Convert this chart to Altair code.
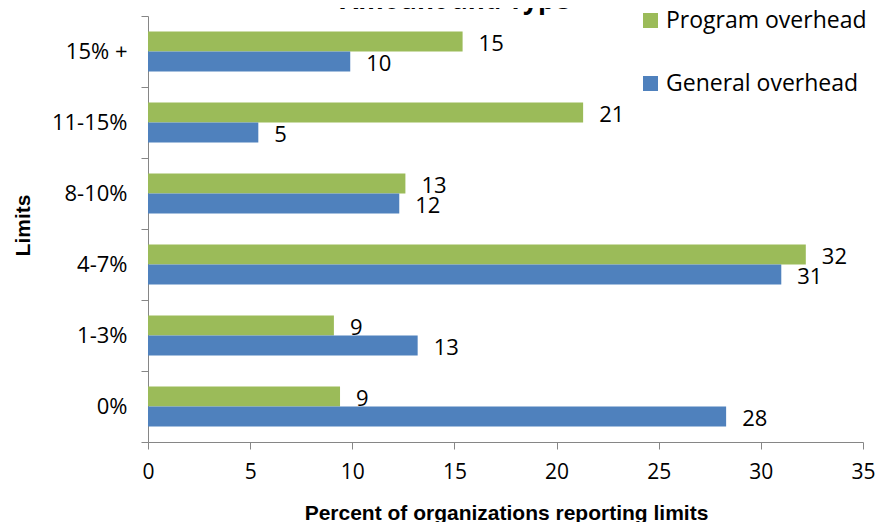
import altair as alt
import pandas as pd

limits = ["15% +", "11-15%", "8-10%", "4-7%", "1-3%", "0%"]
series_order = ["Program overhead", "General overhead"]
program_overhead = [15.4, 21.3, 12.6, 32.2, 9.1, 9.4]
general_overhead = [9.9, 5.4, 12.3, 31.0, 13.2, 28.3]
x_ticks = [0, 5, 10, 15, 20, 25, 30, 35]
colors = ["#9BBB59", "#4F81BD"]

rows = []
for lim, p, g in zip(limits, program_overhead, general_overhead):
    rows.append({"limit": lim, "series": series_order[0], "value": p})
    rows.append({"limit": lim, "series": series_order[1], "value": g})
df = pd.DataFrame(rows)

FONT = "Open Sans"
AXIS_COLOR = "#868686"

y_enc = alt.Y(
    "limit:N",
    sort=limits,
    scale=alt.Scale(paddingInner=0, paddingOuter=0),
    axis=alt.Axis(
        title="Limits",
        titleFont="Liberation Sans",
        titleFontWeight="bold",
        titleFontSize=21,
        titleColor="black",
        titleAngle=270,
        titleAlign="center",
        titleBaseline="middle",
        titleX=-125,
        titleY=209,
        labelFont=FONT,
        labelFontSize=22,
        labelColor="black",
        labelPadding=14,
        tickBand="extent",
        tickSize=7,
        tickColor=AXIS_COLOR,
        domainColor=AXIS_COLOR,
        grid=False,
    ),
)
y_off = alt.YOffset(
    "series:N",
    sort=series_order,
    scale=alt.Scale(paddingInner=0, paddingOuter=0.775),
)
x_enc = alt.X(
    "value:Q",
    scale=alt.Scale(domain=[0, 35], nice=False, zero=True),
    axis=alt.Axis(
        values=x_ticks,
        title="Percent of organizations reporting limits",
        titleFont="Liberation Sans",
        titleFontWeight="bold",
        titleFontSize=21,
        titleColor="black",
        titleBaseline="alphabetic",
        titleX=358,
        titleY=77,
        labelFont=FONT,
        labelFontSize=21,
        labelColor="black",
        labelPadding=12,
        tickSize=7,
        tickColor=AXIS_COLOR,
        domainColor=AXIS_COLOR,
        grid=False,
        labelFlush=False,
    ),
)

bars = alt.Chart(df).mark_bar().encode(
    y=y_enc,
    yOffset=y_off,
    x=x_enc,
    color=alt.Color(
        "series:N",
        scale=alt.Scale(domain=series_order, range=colors),
        legend=alt.Legend(
            title=None,
            orient="none",
            legendX=491,
            legendY=-7,
            padding=0,
            rowPadding=39,
            symbolType="square",
            symbolSize=225,
            symbolStrokeWidth=0,
            labelFont=FONT,
            labelFontSize=23,
            labelColor="black",
            labelOffset=4,
            labelLimit=400,
        ),
    ),
)

labels = alt.Chart(df).mark_text(
    align="left", baseline="middle", dx=16, dy=2, font=FONT, fontSize=22, color="black"
).encode(
    y=alt.Y("limit:N", sort=limits),
    yOffset=alt.YOffset("series:N", sort=series_order),
    x=alt.X("value:Q"),
    text=alt.Text("value:Q", format=".0f"),
)

title_df = pd.DataFrame({"t": ["Amount and Type"]})
title = alt.Chart(title_df).mark_text(
    align="center", baseline="alphabetic", font=FONT, fontWeight="bold", fontSize=26, color="black"
).encode(
    x=alt.value(307),
    y=alt.value(-7),
    text="t:N",
)

chart = alt.layer(bars, labels, title).properties(
    width=715,
    height=426,
    autosize=alt.AutoSizeParams(type="none"),
    padding={"left": 140, "top": 8, "right": 17, "bottom": 86},
).configure_view(stroke=None)

chart.save("out.html", embed_options={"renderer": "svg", "actions": False})
